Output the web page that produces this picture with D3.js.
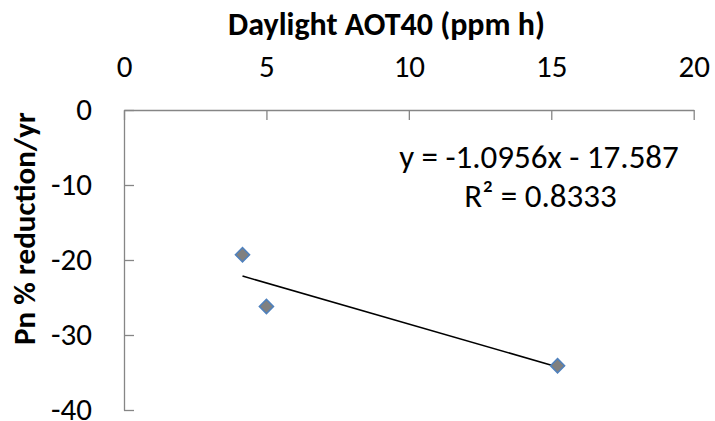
<!DOCTYPE html>
<html>
<head>
<meta charset="utf-8">
<script src="https://cdn.jsdelivr.net/npm/d3@7"></script>
<style>
  body { margin: 0; background: #fff; }
  svg { display: block; }
  .axis path, .axis line { stroke: #868686; stroke-width: 1.3; }
  .axis text { font-family: Carlito, Lato, sans-serif; font-size: 31px; fill: #000; }
  .label { font-family: Carlito, Lato, sans-serif; font-weight: bold; fill: #000; }
  .eq { font-family: Carlito, Lato, sans-serif; font-size: 33px; fill: #000; }
</style>
</head>
<body>
<div class="chart"></div>
<script>
var width = 715;
var height = 421;

var margin = { "top": 110, "bottom": 11, "left": 124, "right": 22 };

// values
var aot40 = [4.16, 5.0, 15.22];
var pnReduction = [-19.3, -26.2, -34.1];
var xTicks = [0, 5, 10, 15, 20];
var yTicks = [0, -10, -20, -30, -40];
var slope = -1.0956;
var intercept = -17.587;
var rSquared = 0.8333;

var svg = d3.select(".chart")
            .append("svg")
            .attr("width", width)
            .attr("height", height);

var scaleX = d3.scaleLinear().domain([0, 20]).range([margin.left, width - margin.right + 0.7]);
var scaleY = d3.scaleLinear().domain([0, -40]).range([margin.top, height - margin.bottom]);

// plain hyphen for negatives, like the original
var plain = function(d) { return String(d); };

// top x axis, ticks pointing into the plot
var xAxis = d3.axisTop(scaleX)
              .tickValues(xTicks)
              .tickFormat(plain)
              .tickSizeInner(-10)
              .tickSizeOuter(0)
              .tickPadding(33);

svg.append("g")
    .attr("class", "axis")
    .attr("transform", "translate(0," + margin.top + ")")
    .call(xAxis);

var yAxis = d3.axisLeft(scaleY)
              .tickValues(yTicks)
              .tickFormat(plain)
              .tickSizeInner(-10)
              .tickSizeOuter(0)
              .tickPadding(32);

svg.append("g")
    .attr("class", "axis")
    .attr("transform", "translate(" + margin.left + ",0)")
    .call(yAxis);

// axis titles
svg.append("text")
    .attr("class", "label")
    .attr("x", 386.5)
    .attr("y", 35)
    .attr("font-size", 32)
    .attr("text-anchor", "middle")
    .text("Daylight AOT40 (ppm h)");

svg.append("text")
    .attr("class", "label")
    .attr("transform", "translate(35,228.5) rotate(-90)")
    .attr("font-size", 31)
    .attr("text-anchor", "middle")
    .text("Pn % reduction/yr");

// linear trendline over the data range
var xExtent = d3.extent(aot40);
var trend = xExtent.map(function(x) { return [x, slope * x + intercept]; });

svg.append("path")
    .datum(trend)
    .attr("fill", "none")
    .attr("stroke", "#000")
    .attr("stroke-width", 1.6)
    .attr("d", d3.line()
                 .x(function(d) { return scaleX(d[0]); })
                 .y(function(d) { return scaleY(d[1]); }));

var points = aot40.map(function(x, i) { return [x, pnReduction[i]]; });

svg.selectAll(".pt")
    .data(points)
    .enter()
    .append("path")
    .attr("class", "pt")
    .attr("d", d3.symbol().type(d3.symbolSquare).size(100))
    .attr("transform", function(d) {
      return "translate(" + scaleX(d[0]) + "," + scaleY(d[1]) + ") rotate(45)";
    })
    .attr("fill", "#808080")
    .attr("stroke", "#4F81BD")
    .attr("stroke-width", 1.5);

// trendline equation
var fmt = d3.format(".4f");
svg.append("text")
    .attr("class", "eq")
    .attr("x", 539)
    .attr("y", 168)
    .attr("text-anchor", "middle")
    .text("y = " + slope + "x - " + Math.abs(intercept));

svg.append("text")
    .attr("class", "eq")
    .attr("x", 540.5)
    .attr("y", 207)
    .attr("text-anchor", "middle")
    .text("R\u00B2 = " + fmt(rSquared));
</script>
</body>
</html>
